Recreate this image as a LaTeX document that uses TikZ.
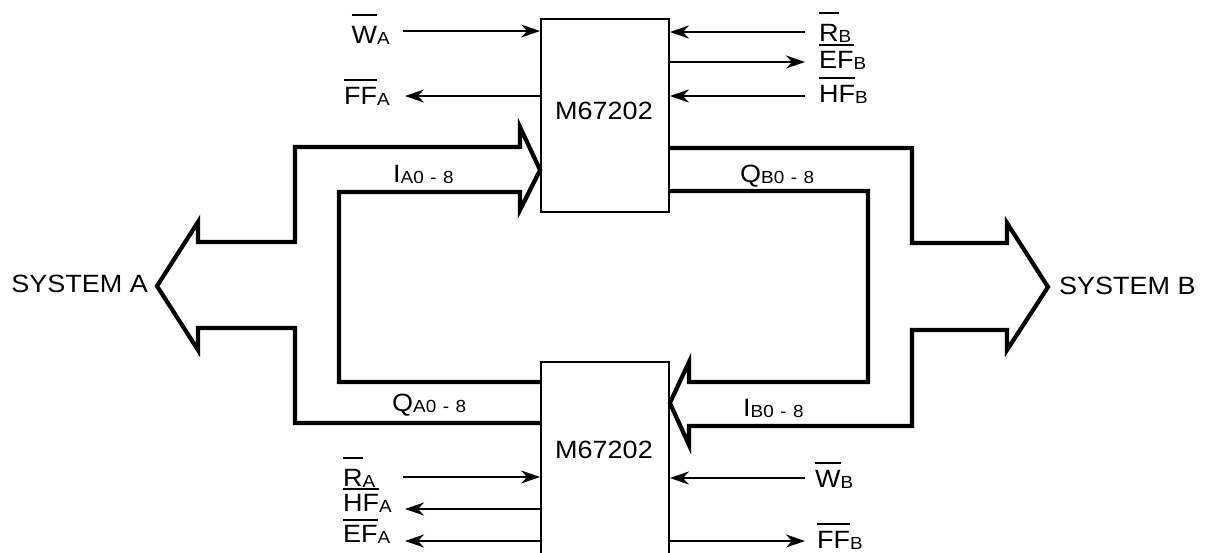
\documentclass[tikz,border=0pt]{standalone}
\usepackage{fontspec}
\setmainfont[FakeStretch=1.08]{Liberation Sans}
\usetikzlibrary{arrows.meta}
\newcommand{\ovr}[2][6pt]{\setbox0=\hbox{#2}\rlap{\rule[\dimexpr\ht0+#1\relax]{\wd0}{1.8pt}}\box0}
\newcommand{\sbs}[1]{\raisebox{-1.5pt}{\fontsize{17.5}{19}\selectfont #1}}
\newcommand{\rng}[1]{#10\hspace{6.5pt}-\hspace{6.5pt}8}
\begin{document}
\begin{tikzpicture}[x=1pt,y=-1pt,
  chip/.style={draw, line width=1.8pt, inner sep=0pt, minimum width=128pt},
  lbl/.style={inner sep=0pt, font=\fontsize{25}{30}\selectfont},
  sig/.style={line width=2pt, -{Stealth[length=19pt,width=13pt,inset=6pt]}},
  bus/.style={line width=4.2pt, line join=miter}]
\useasboundingbox (0,0) rectangle (1211,552);
\clip (0,0) rectangle (1211,552);
% boxes
\node[chip, minimum height=193pt] (top) at (605,115.5) {};
\node[chip, minimum height=200pt] (bot) at (605,462) {};
\node[lbl, anchor=base] (toplbl) at (604,119) {M67202};
\node[lbl, anchor=base] (botlbl) at (604,458) {M67202};
% left bus outline (SYSTEM A)
\draw[bus] (bot.west |- 0,423) -- (295,423) -- (295,328) -- (198,328) -- (198,350)
  -- (157,286) -- (198,222) -- (198,242) -- (295,242) -- (295,147) -- (520,147)
  -- (520,127) -- (top.west |- 0,170) -- (520,210) -- (520,192) -- (339,192)
  -- (339,382) -- (bot.west |- 0,382);
% right bus outline (SYSTEM B)
\draw[bus] (top.east |- 0,148) -- (912,148) -- (912,243) -- (1007,243) -- (1007,223)
  -- (1048,287) -- (1007,350) -- (1007,330) -- (912,330) -- (912,426) -- (689,426)
  -- (689,445) -- (bot.east |- 0,403) -- (689,362) -- (689,382) -- (868,382)
  -- (868,191) -- (top.east |- 0,191);
% system labels
\node[lbl, anchor=base east] (sysa) at (148,292) {SYSTEM A};
\node[lbl, anchor=base west] (sysb) at (1059,294) {SYSTEM B};
% bus labels
\node[lbl, anchor=base west] (ia) at (393,182) {I\sbs{\rng{A}}};
\node[lbl, anchor=base west] (qb) at (740,182) {Q\sbs{\rng{B}}};
\node[lbl, anchor=base west] (qa) at (392,411) {Q\sbs{\rng{A}}};
\node[lbl, anchor=base west] (ib) at (743,416) {I\sbs{\rng{B}}};
% top signals
\coordinate (wa) at (403,31);
\coordinate (ffa) at (405,96);
\coordinate (rb) at (805,32);
\coordinate (efb) at (805,62);
\coordinate (hfb) at (805,96);
\draw[sig] (wa) -- (top.west |- wa);
\draw[sig] (top.west |- ffa) -- (ffa);
\draw[sig] (rb) -- (top.east |- rb);
\draw[sig] (top.east |- efb) -- (efb);
\draw[sig] (hfb) -- (top.east |- hfb);
\node[lbl, anchor=base east] (lwa) at (390,43) {\ovr[10pt]{W}\sbs{A}};
\node[lbl, anchor=base east] (lffa) at (390,104) {\ovr[6pt]{FF}\sbs{A}};
\node[lbl, anchor=base west] (lrb) at (819,41) {\ovr[10pt]{R}\sbs{B}};
\node[lbl, anchor=base west] (lefb) at (819,68) {\ovr[5pt]{EF}\sbs{B}};
\node[lbl, anchor=base west] (lhfb) at (819,102) {\ovr[6pt]{HF}\sbs{B}};
% bottom signals
\coordinate (ra) at (403,477);
\coordinate (hfa) at (405,509);
\coordinate (efa) at (405,541);
\coordinate (wb) at (805,478);
\coordinate (ffb) at (805,541);
\draw[sig] (ra) -- (bot.west |- ra);
\draw[sig] (bot.west |- hfa) -- (hfa);
\draw[sig] (bot.west |- efa) -- (efa);
\draw[sig] (wb) -- (bot.east |- wb);
\draw[sig] (bot.east |- ffb) -- (ffb);
\node[lbl, anchor=base west] (lra) at (343,486) {\ovr[10pt]{R}\sbs{A}};
\node[lbl, anchor=base west] (lhfa) at (343,511) {\ovr[4pt]{HF}\sbs{A}};
\node[lbl, anchor=base west] (lefa) at (343,542) {\ovr[4pt]{EF}\sbs{A}};
\node[lbl, anchor=base west] (lwb) at (815,487) {\ovr[6pt]{W}\sbs{B}};
\node[lbl, anchor=base west] (lffb) at (817,548) {\ovr[6pt]{FF}\sbs{B}};
\end{tikzpicture}
\end{document}
